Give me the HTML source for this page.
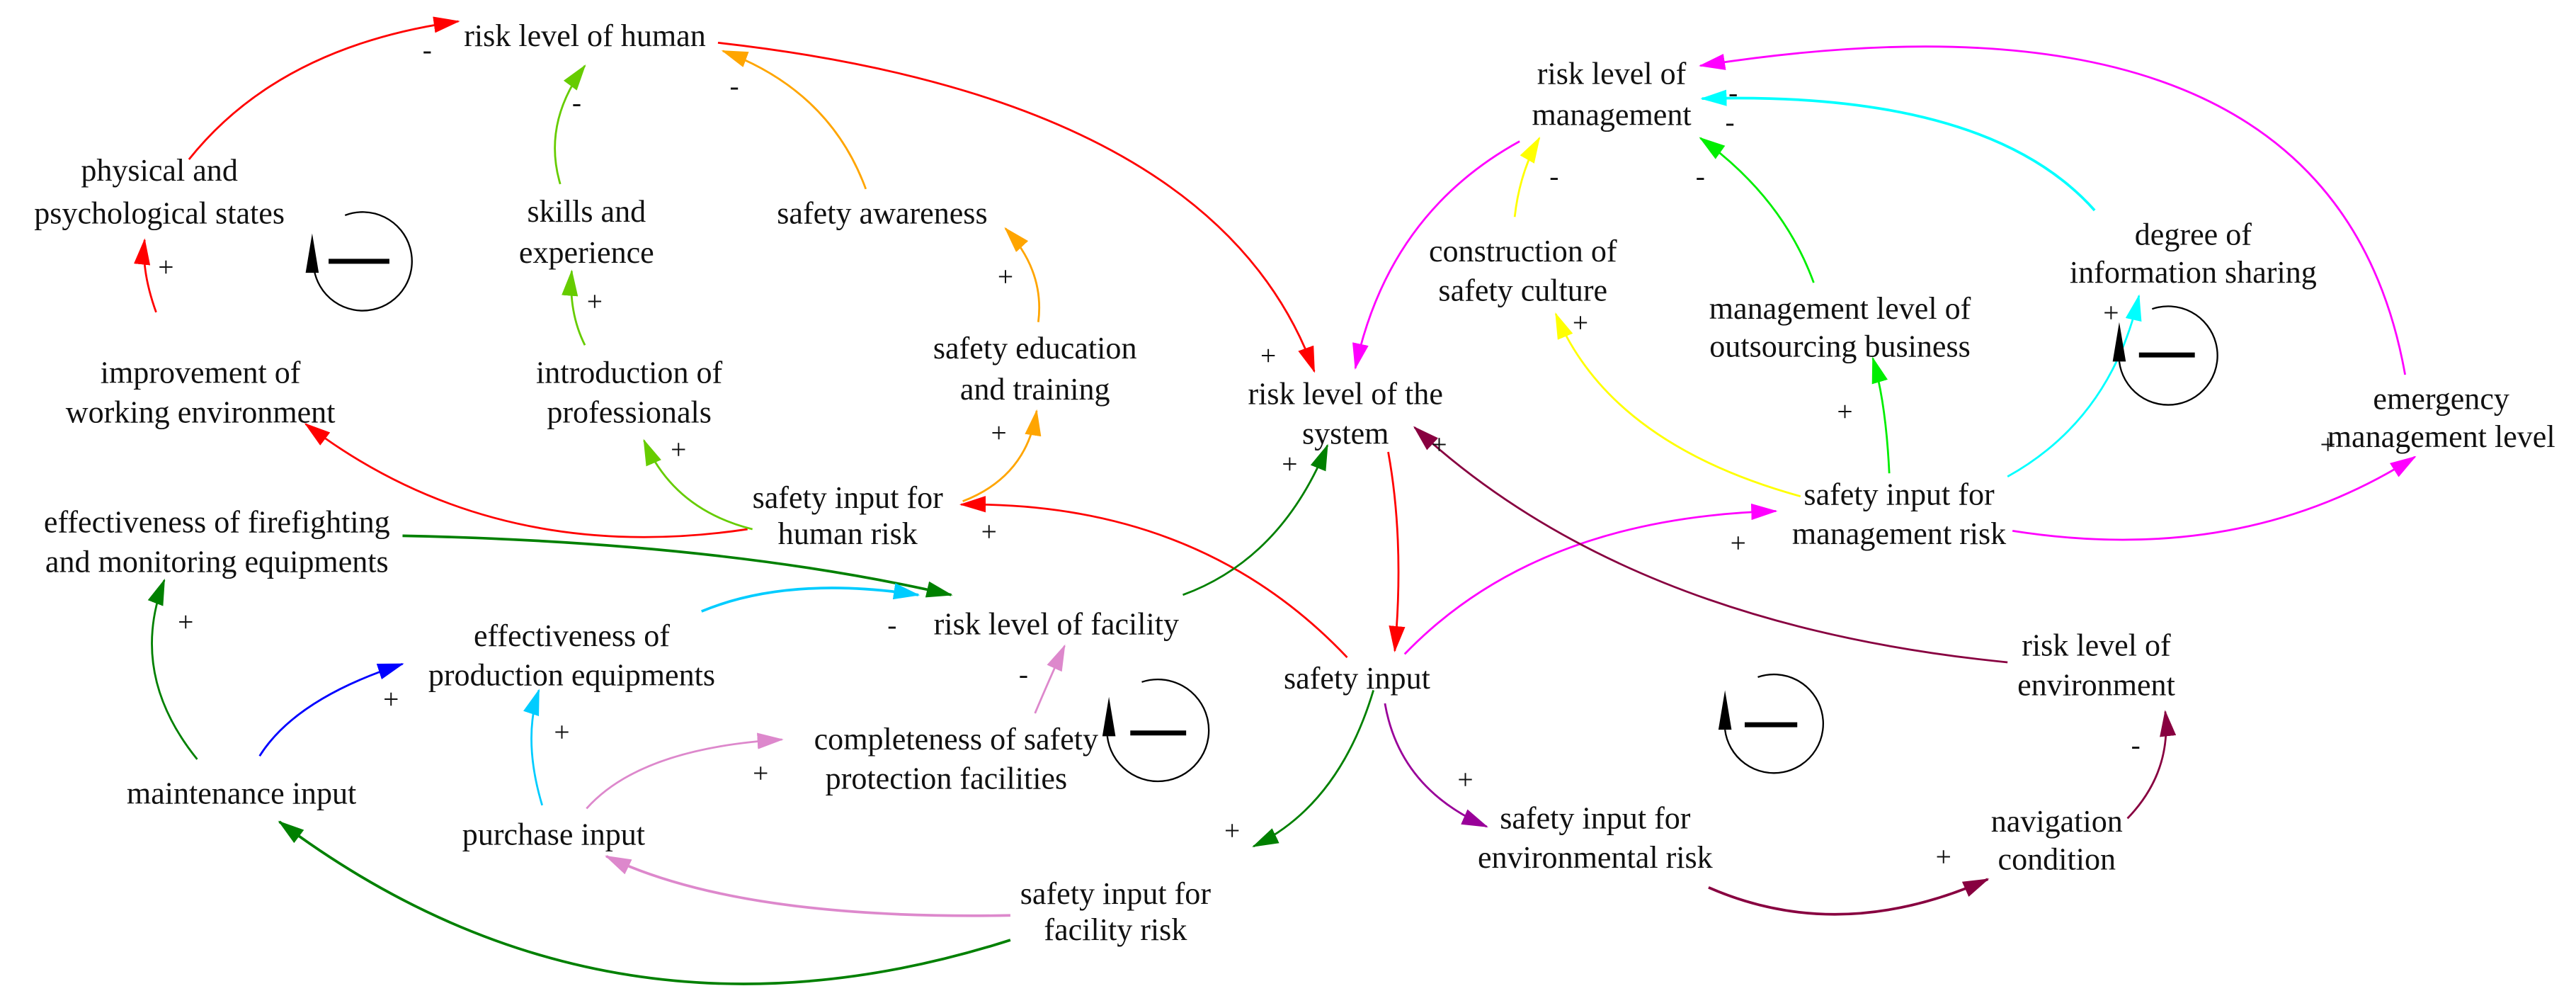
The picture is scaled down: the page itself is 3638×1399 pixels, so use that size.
<!DOCTYPE html>
<html><head><meta charset="utf-8"><style>
html,body{margin:0;padding:0;background:#fff;}
svg{display:block;}
text{font-family:"Liberation Serif",serif;font-size:19px;fill:#111;text-anchor:middle;}
.s{font-size:17px;}
path.c{fill:none;}
</style></head><body>
<svg width="3638" height="1399" viewBox="0 0 1568 603" xmlns="http://www.w3.org/2000/svg">
<defs>
<marker id="red" markerWidth="16" markerHeight="10" refX="15" refY="5" orient="auto" markerUnits="userSpaceOnUse"><polygon points="0,0 16,5 0,10" fill="#ff0000"/></marker>
<marker id="lg" markerWidth="16" markerHeight="10" refX="15" refY="5" orient="auto" markerUnits="userSpaceOnUse"><polygon points="0,0 16,5 0,10" fill="#66cc00"/></marker>
<marker id="or" markerWidth="16" markerHeight="10" refX="15" refY="5" orient="auto" markerUnits="userSpaceOnUse"><polygon points="0,0 16,5 0,10" fill="#ffa500"/></marker>
<marker id="mg" markerWidth="16" markerHeight="10" refX="15" refY="5" orient="auto" markerUnits="userSpaceOnUse"><polygon points="0,0 16,5 0,10" fill="#ff00ff"/></marker>
<marker id="ye" markerWidth="16" markerHeight="10" refX="15" refY="5" orient="auto" markerUnits="userSpaceOnUse"><polygon points="0,0 16,5 0,10" fill="#ffff00"/></marker>
<marker id="gr" markerWidth="16" markerHeight="10" refX="15" refY="5" orient="auto" markerUnits="userSpaceOnUse"><polygon points="0,0 16,5 0,10" fill="#00ee00"/></marker>
<marker id="cy" markerWidth="16" markerHeight="10" refX="15" refY="5" orient="auto" markerUnits="userSpaceOnUse"><polygon points="0,0 16,5 0,10" fill="#00ffff"/></marker>
<marker id="dg" markerWidth="16" markerHeight="10" refX="15" refY="5" orient="auto" markerUnits="userSpaceOnUse"><polygon points="0,0 16,5 0,10" fill="#008000"/></marker>
<marker id="sk" markerWidth="16" markerHeight="10" refX="15" refY="5" orient="auto" markerUnits="userSpaceOnUse"><polygon points="0,0 16,5 0,10" fill="#00ccff"/></marker>
<marker id="bl" markerWidth="16" markerHeight="10" refX="15" refY="5" orient="auto" markerUnits="userSpaceOnUse"><polygon points="0,0 16,5 0,10" fill="#0000ff"/></marker>
<marker id="pk" markerWidth="16" markerHeight="10" refX="15" refY="5" orient="auto" markerUnits="userSpaceOnUse"><polygon points="0,0 16,5 0,10" fill="#dd88cc"/></marker>
<marker id="mr" markerWidth="16" markerHeight="10" refX="15" refY="5" orient="auto" markerUnits="userSpaceOnUse"><polygon points="0,0 16,5 0,10" fill="#880040"/></marker>
<marker id="pu" markerWidth="16" markerHeight="10" refX="15" refY="5" orient="auto" markerUnits="userSpaceOnUse"><polygon points="0,0 16,5 0,10" fill="#990099"/></marker>
</defs>
<g stroke-width="1.2" fill="none">
<path class="c" d="M115,97 Q170,28 279,13" stroke="#ff0000" marker-end="url(#red)"/>
<path class="c" d="M95,190 Q86,165 88,146" stroke="#ff0000" marker-end="url(#red)"/>
<path class="c" d="M437,26 Q740,60 800,226" stroke="#ff0000" marker-end="url(#red)"/>
<path class="c" d="M455,322 Q300,345 186,258" stroke="#ff0000" marker-end="url(#red)"/>
<path class="c" d="M845,275 Q855,330 849,396" stroke="#ff0000" marker-end="url(#red)"/>
<path class="c" d="M820,400 Q730,305 585,307" stroke="#ff0000" marker-end="url(#red)"/>
<path class="c" d="M341,112 Q330,75 356,40" stroke="#66cc00" marker-end="url(#lg)"/>
<path class="c" d="M356,210 Q346,190 348,165" stroke="#66cc00" marker-end="url(#lg)"/>
<path class="c" d="M458,322 Q410,310 392,268" stroke="#66cc00" marker-end="url(#lg)"/>
<path class="c" d="M527,115 Q505,55 440,31" stroke="#ffa500" marker-end="url(#or)"/>
<path class="c" d="M632,196 Q636,165 612,139" stroke="#ffa500" marker-end="url(#or)"/>
<path class="c" d="M586,305 Q625,290 631,250" stroke="#ffa500" marker-end="url(#or)"/>
<path class="c" d="M925,86 Q845,130 825,224" stroke="#ff00ff" marker-end="url(#mg)"/>
<path class="c" d="M1464,228 Q1420,-20 1035,40" stroke="#ff00ff" marker-end="url(#mg)"/>
<path class="c" d="M855,398 Q935,315 1081,311" stroke="#ff00ff" marker-end="url(#mg)"/>
<path class="c" d="M1225,323 Q1365,345 1470,278" stroke="#ff00ff" marker-end="url(#mg)"/>
<path class="c" d="M922,132 Q925,105 937,84" stroke="#ffff00" marker-end="url(#ye)"/>
<path class="c" d="M1096,302 Q980,270 947,191" stroke="#ffff00" marker-end="url(#ye)"/>
<path class="c" d="M1104,172 Q1085,120 1035,84" stroke="#00ee00" marker-end="url(#gr)"/>
<path class="c" d="M1150,288 Q1148,245 1140,218" stroke="#00ee00" marker-end="url(#gr)"/>
<path class="c" d="M1275,128 Q1210,55 1036,60" stroke="#00ffff" stroke-width="1.6" marker-end="url(#cy)"/>
<path class="c" d="M1222,290 Q1285,255 1302,180" stroke="#00ffff" marker-end="url(#cy)"/>
<path class="c" d="M720,362 Q780,340 808,271" stroke="#008000" marker-end="url(#dg)"/>
<path class="c" d="M245,326 Q440,330 579,362" stroke="#008000" stroke-width="1.6" marker-end="url(#dg)"/>
<path class="c" d="M836,420 Q815,490 763,515" stroke="#008000" marker-end="url(#dg)"/>
<path class="c" d="M120,462 Q78,410 100,353" stroke="#008000" marker-end="url(#dg)"/>
<path class="c" d="M615,572 Q370,650 170,500" stroke="#008000" stroke-width="1.6" marker-end="url(#dg)"/>
<path class="c" d="M427,372 Q480,350 559,362" stroke="#00ccff" stroke-width="1.6" marker-end="url(#sk)"/>
<path class="c" d="M330,490 Q318,450 328,420" stroke="#00ccff" marker-end="url(#sk)"/>
<path class="c" d="M158,460 Q180,425 245,404" stroke="#0000ff" marker-end="url(#bl)"/>
<path class="c" d="M630,434 Q638,415 648,393" stroke="#dd88cc" marker-end="url(#pk)"/>
<path class="c" d="M357,492 Q390,455 476,450" stroke="#dd88cc" marker-end="url(#pk)"/>
<path class="c" d="M615,557 Q450,560 369,521" stroke="#dd88cc" stroke-width="1.6" marker-end="url(#pk)"/>
<path class="c" d="M1222,403 Q990,380 861,260" stroke="#880040" marker-end="url(#mr)"/>
<path class="c" d="M1295,498 Q1322,470 1318,433" stroke="#880040" marker-end="url(#mr)"/>
<path class="c" d="M1040,540 Q1120,575 1210,535" stroke="#880040" stroke-width="1.6" marker-end="url(#mr)"/>
<path class="c" d="M843,428 Q852,480 905,503" stroke="#990099" marker-end="url(#pu)"/>
</g>
<g stroke="#000" stroke-width="1" fill="none">
<path class="c" d="M210,131 A30,30 0 1 1 191,163"/>
<line x1="200" y1="159" x2="237" y2="159" stroke-width="3"/>
<path class="c" d="M695,415 A31,31 0 1 1 674,448"/>
<line x1="688" y1="446" x2="722" y2="446" stroke-width="3"/>
<path class="c" d="M1070,412 A30,30 0 1 1 1050,444"/>
<line x1="1062" y1="441" x2="1094" y2="441" stroke-width="3"/>
<path class="c" d="M1310,188 A30,30 0 1 1 1290,220"/>
<line x1="1302" y1="216" x2="1336" y2="216" stroke-width="3"/>
</g>
<g fill="#000">
<polygon points="186,166 190,142 194,166"/>
<polygon points="671,448 675,424 679,448"/>
<polygon points="1046,444 1050,420 1054,444"/>
<polygon points="1286,220 1290,196 1294,220"/>
</g>
<text x="356" y="28">risk level of human</text>
<text x="97" y="110">physical and</text><text x="97" y="136">psychological states</text>
<text x="357" y="135">skills and</text><text x="357" y="160">experience</text>
<text x="537" y="136">safety awareness</text>
<text x="122" y="233">improvement of</text><text x="122" y="257">working environment</text>
<text x="383" y="233">introduction of</text><text x="383" y="257">professionals</text>
<text x="630" y="218">safety education</text><text x="630" y="243">and training</text>
<text x="819" y="246">risk level of the</text><text x="819" y="270">system</text>
<text x="516" y="309">safety input for</text><text x="516" y="331">human risk</text>
<text x="132" y="324">effectiveness of firefighting</text><text x="132" y="348">and monitoring equipments</text>
<text x="643" y="386">risk level of facility</text>
<text x="348" y="393">effectiveness of</text><text x="348" y="417">production equipments</text>
<text x="826" y="419">safety input</text>
<text x="582" y="456">completeness of safety</text><text x="576" y="480">protection facilities</text>
<text x="147" y="489">maintenance input</text>
<text x="337" y="514">purchase input</text>
<text x="679" y="550">safety input for</text><text x="679" y="572">facility risk</text>
<text x="981" y="51">risk level of</text><text x="981" y="76">management</text>
<text x="927" y="159">construction of</text><text x="927" y="183">safety culture</text>
<text x="1335" y="149">degree of</text><text x="1335" y="172">information sharing</text>
<text x="1120" y="194">management level of</text><text x="1120" y="217">outsourcing business</text>
<text x="1486" y="249">emergency</text><text x="1486" y="272">management level</text>
<text x="1156" y="307">safety input for</text><text x="1156" y="331">management risk</text>
<text x="1276" y="399">risk level of</text><text x="1276" y="423">environment</text>
<text x="971" y="504">safety input for</text><text x="971" y="528">environmental risk</text>
<text x="1252" y="506">navigation</text><text x="1252" y="529">condition</text>
<g>
<text class="s" x="260" y="36">-</text><text class="s" x="351" y="68">-</text><text class="s" x="447" y="58">-</text>
<text class="s" x="101" y="168">+</text><text class="s" x="362" y="189">+</text><text class="s" x="612" y="174">+</text>
<text class="s" x="608" y="269">+</text><text class="s" x="413" y="279">+</text><text class="s" x="772" y="222">+</text>
<text class="s" x="602" y="329">+</text><text class="s" x="876" y="276">+</text><text class="s" x="785" y="288">+</text>
<text class="s" x="543" y="386">-</text><text class="s" x="113" y="384">+</text><text class="s" x="238" y="431">+</text>
<text class="s" x="342" y="451">+</text><text class="s" x="623" y="416">-</text><text class="s" x="463" y="476">+</text>
<text class="s" x="750" y="511">+</text><text class="s" x="892" y="480">+</text><text class="s" x="1183" y="527">+</text>
<text class="s" x="1300" y="459">-</text><text class="s" x="946" y="113">-</text><text class="s" x="1035" y="113">-</text>
<text class="s" x="1055" y="62">-</text><text class="s" x="1053" y="80">-</text>
<text class="s" x="962" y="202">+</text><text class="s" x="1123" y="256">+</text><text class="s" x="1285" y="196">+</text>
<text class="s" x="1058" y="336">+</text><text class="s" x="1417" y="276">+</text>
</g>
</svg>
</body></html>
